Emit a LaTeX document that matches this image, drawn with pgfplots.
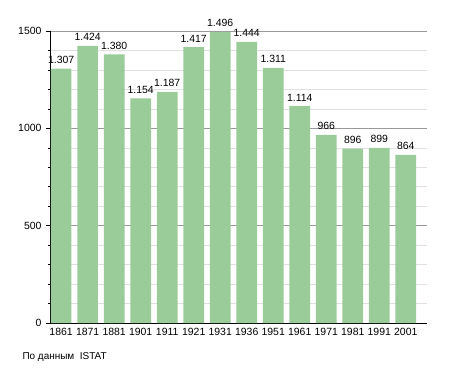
\documentclass[border=0pt]{standalone}
\usepackage{pgfplots}
\pgfplotsset{compat=1.18}
\usepackage{pgfplotstable}
\usepackage{fontspec}
\setmainfont{Liberation Sans}
\definecolor{barg}{RGB}{153,204,153}
\pgfplotstableread{
x y lab
0 1307 1.307
1 1424 1.424
2 1380 1.380
3 1154 1.154
4 1187 1.187
5 1417 1.417
6 1496 1.496
7 1444 1.444
8 1311 1.311
9 1114 1.114
10 966 966
11 896 896
12 899 899
13 864 864
}\datatable
\begin{document}
\begin{tikzpicture}[x=1bp,y=1bp]
\path[use as bounding box] (-50,-50) rectangle (405,323);
\begin{axis}[
  at={(0,0)}, anchor=south west,
  scale only axis, width=377bp, height=292bp,
  xmin=-0.42, xmax=13.8, ymin=0, ymax=1500,
  axis x line*=bottom, axis y line*=left,
  axis line style={black, line width=0.6pt},
  xtick=data,
  xticklabels={1861,1871,1881,1901,1911,1921,1931,1936,1951,1961,1971,1981,1991,2001},
  xtick style={draw=none},
  ytick={0,500,1000,1500},
  minor ytick={100,200,300,400,600,700,800,900,1100,1200,1300,1400},
  ymajorgrids, yminorgrids,
  major grid style={color=black!40, line width=0.5pt},
  minor grid style={color=black!12, line width=0.5pt},
  tick align=outside,
  major tick length=4bp, minor tick length=2bp,
  ytick style={black, line width=0.5pt},
  tick label style={font=\fontsize{10.5}{12}\selectfont},
  /pgf/number format/assume math mode=true,
  yticklabel style={/pgf/number format/fixed, /pgf/number format/1000 sep={}, xshift=-1bp},
  xticklabel style={yshift=2bp},
  clip=false,
]
\addplot[ybar, bar width=0.78, fill=barg, draw=none,
  nodes near coords, point meta=explicit symbolic,
  every node near coord/.style={font=\fontsize{10.5}{12}\selectfont, black, yshift=1.5bp}]
  table[x=x, y=y, meta=lab] {\datatable};
\end{axis}
\node[anchor=west, font=\fontsize{10}{12}\selectfont] at (-31,-34) {По данным\ \ ISTAT};
\end{tikzpicture}
\end{document}
